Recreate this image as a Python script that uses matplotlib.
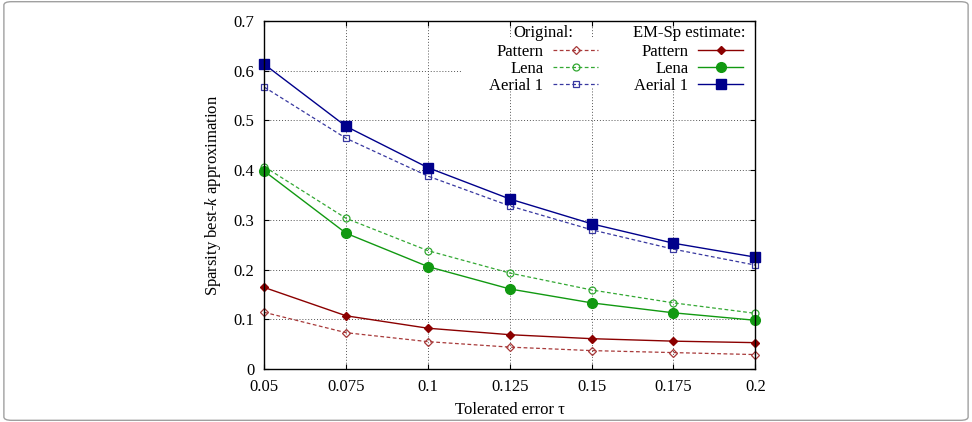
import matplotlib
matplotlib.use('Agg')
import matplotlib.pyplot as plt
from matplotlib.patches import FancyBboxPatch, Rectangle

# ---- data ----
tau = [0.05, 0.075, 0.1, 0.125, 0.15, 0.175, 0.2]
x_tick_labels = ['0.05', '0.075', '0.1', '0.125', '0.15', '0.175', '0.2']
y_ticks = [0, 0.1, 0.2, 0.3, 0.4, 0.5, 0.6, 0.7]
y_tick_labels = ['0', '0.1', '0.2', '0.3', '0.4', '0.5', '0.6', '0.7']

pattern_orig = [0.114, 0.073, 0.055, 0.044, 0.037, 0.033, 0.029]
lena_orig = [0.407, 0.303, 0.238, 0.193, 0.159, 0.133, 0.112]
aerial_orig = [0.567, 0.464, 0.388, 0.328, 0.280, 0.241, 0.209]

pattern_em = [0.164, 0.107, 0.082, 0.069, 0.061, 0.056, 0.053]
lena_em = [0.398, 0.273, 0.206, 0.161, 0.133, 0.113, 0.098]
aerial_em = [0.613, 0.488, 0.405, 0.342, 0.292, 0.253, 0.225]

names = ['Pattern', 'Lena', 'Aerial 1']

# ---- style ----
plt.rcParams['font.family'] = ['Liberation Serif', 'DejaVu Serif']
plt.rcParams['mathtext.fontset'] = 'custom'
plt.rcParams['mathtext.rm'] = 'Liberation Serif'
plt.rcParams['mathtext.it'] = 'Liberation Serif:italic'
plt.rcParams['font.size'] = 12

RED = '#8b0000'
GREEN = '#119911'
BLUE = '#00008b'
RED_L = '#a83a3a'
GREEN_L = '#33a833'
BLUE_L = '#3838a0'

fig = plt.figure(figsize=(9.72, 4.22), dpi=100)
ax = fig.add_axes([0.2719, 0.1256, 0.5052, 0.8246])

# outer rounded frame
frame = FancyBboxPatch((0.004, 0.004), 0.992, 0.992,
                       boxstyle='round,pad=0,rounding_size=0.008',
                       transform=fig.transFigure, facecolor='none',
                       edgecolor='#a0a0a0', linewidth=1.0, zorder=0)
fig.patches.append(frame)

orig_lines = []
em_lines = []
orig_lines.append(ax.plot(tau, pattern_orig, linestyle=(0, (3, 2)), color=RED_L, lw=0.9,
                          marker='D', markersize=3.6, markerfacecolor='none',
                          markeredgecolor=RED_L, markeredgewidth=0.9)[0])
orig_lines.append(ax.plot(tau, lena_orig, linestyle=(0, (3, 2)), color=GREEN_L, lw=0.9,
                          marker='o', markersize=5, markerfacecolor='none',
                          markeredgecolor=GREEN_L, markeredgewidth=0.9)[0])
orig_lines.append(ax.plot(tau, aerial_orig, linestyle=(0, (3, 2)), color=BLUE_L, lw=0.9,
                          marker='s', markersize=5, markerfacecolor='none',
                          markeredgecolor=BLUE_L, markeredgewidth=0.9)[0])
em_lines.append(ax.plot(tau, pattern_em, '-', color=RED, lw=1.0,
                        marker='D', markersize=4.5, markerfacecolor=RED,
                        markeredgecolor=RED)[0])
em_lines.append(ax.plot(tau, lena_em, '-', color=GREEN, lw=1.0,
                        marker='o', markersize=7, markerfacecolor=GREEN,
                        markeredgecolor=GREEN)[0])
em_lines.append(ax.plot(tau, aerial_em, '-', color=BLUE, lw=1.0,
                        marker='s', markersize=7.5, markerfacecolor=BLUE,
                        markeredgecolor=BLUE)[0])
for l in orig_lines + em_lines:
    l.set_clip_on(False)

ax.set_xlim(0.05, 0.2)
ax.set_ylim(0, 0.7)
ax.set_xticks(tau)
ax.set_xticklabels(x_tick_labels)
ax.set_yticks(y_ticks)
ax.set_yticklabels(y_tick_labels)
ax.tick_params(direction='in', length=3.6, width=0.8, top=True, right=True,
               labelsize=12, pad=7)
ax.set_axisbelow(True)
ax.grid(True, linestyle=(0, (1, 2)), color='#555555', linewidth=0.7)
for s in ax.spines.values():
    s.set_linewidth(1.0)
    s.set_color('black')

ax.set_xlabel('Tolerated error τ', fontsize=12, labelpad=5)
ax.set_ylabel('Sparsity best-$k$ approximation', fontsize=12, labelpad=8)

# opaque area behind legend entries
ax.add_patch(Rectangle((0.403, 0.807), 0.597, 0.144, transform=ax.transAxes,
                       facecolor='white', edgecolor='none', zorder=1))

leg_kw = dict(loc='upper right', markerfirst=False, frameon=False,
              borderpad=0, borderaxespad=0, handlelength=2.7,
              handletextpad=0.6, labelspacing=0.05, fontsize=12,
              title_fontsize=12)
leg1 = ax.legend(orig_lines, names, title='Original:',
                 bbox_to_anchor=(0.680, 0.988), **leg_kw)
leg1._legend_box.sep = 2
ax.add_artist(leg1)
leg2 = ax.legend(em_lines, names, title='EM-Sp estimate:',
                 bbox_to_anchor=(0.979, 0.988), **leg_kw)
leg2._legend_box.sep = 2

fig.savefig('out.png', dpi=100)
